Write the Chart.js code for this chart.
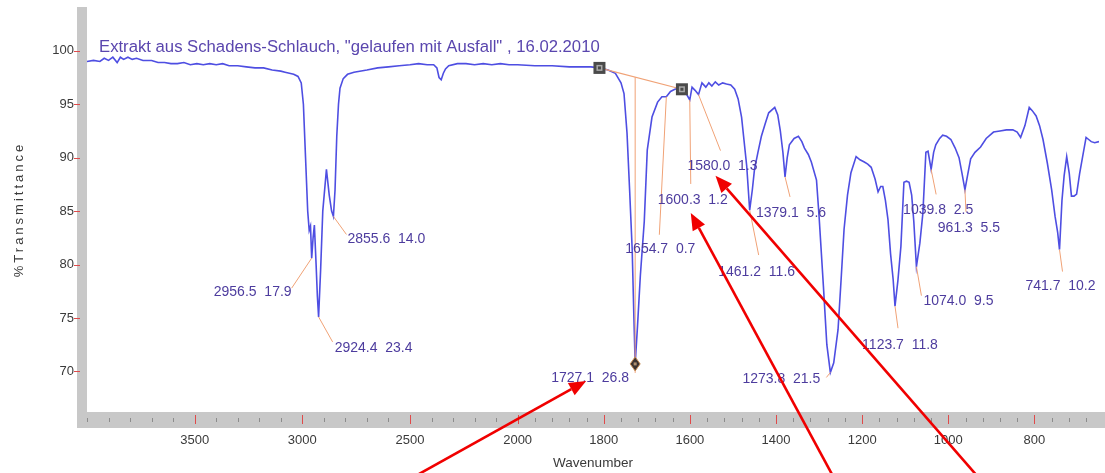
<!DOCTYPE html>
<html>
<head>
<meta charset="utf-8">
<script src="https://cdn.jsdelivr.net/npm/chart.js@4.4.0/dist/chart.umd.min.js"></script>
<style>
  html, body { margin: 0; padding: 0; background: #fff; }
  #wrap { width: 1105px; height: 473px; }
</style>
</head>
<body>
<div id="wrap"><canvas id="irChart"></canvas></div>
<script>
// IR spectrum, wavenumber (1/cm) and %T
const WAVENUMBER = [
  4000, 3970, 3940, 3920, 3900, 3880, 3860, 3845, 3830, 3810, 3790, 3770, 3740, 3700, 3670, 3640,
  3610, 3580, 3550, 3520, 3490, 3460, 3430, 3400, 3370, 3340, 3300, 3260, 3220, 3180, 3140, 3100,
  3080, 3060, 3040, 3020, 3005, 2995, 2985, 2975, 2968, 2962, 2956.5, 2950, 2944, 2936, 2930, 2924.4,
  2915, 2905, 2888, 2875, 2864, 2855.6, 2848, 2840, 2832, 2825, 2810, 2790, 2760, 2700, 2650, 2600,
  2550, 2500, 2460, 2420, 2390, 2375, 2365, 2355, 2345, 2335, 2320, 2280, 2240, 2200, 2160, 2120,
  2080, 2040, 2000, 1960, 1920, 1880, 1850, 1830, 1810, 1790, 1773, 1760, 1753, 1746, 1740, 1734,
  1730, 1727.1, 1722, 1715, 1706, 1699, 1688, 1675, 1665, 1654.7, 1645, 1635, 1625, 1618.5, 1610, 1600.3,
  1595, 1588, 1580.0, 1572, 1563, 1556, 1549, 1541, 1533, 1524, 1515, 1505, 1496, 1488, 1480, 1468,
  1461.2, 1455, 1450, 1442, 1434, 1425, 1417, 1403, 1396, 1390, 1384, 1379.1, 1374, 1369, 1358, 1348,
  1340, 1334, 1325, 1318, 1306, 1300, 1290, 1282, 1273.8, 1266, 1256, 1249, 1242, 1234, 1226, 1214,
  1205, 1195, 1187, 1179, 1170, 1163, 1157, 1152, 1146, 1140, 1134, 1128, 1123.7, 1117, 1110, 1103,
  1097, 1091, 1085, 1080, 1074.0, 1066, 1059, 1052, 1047, 1039.8, 1034, 1029, 1020, 1013, 1004, 994,
  984, 975, 968, 961.3, 955, 948, 938, 925, 912, 895, 880, 865, 850, 840, 832, 822,
  812, 805, 796, 788, 780, 770, 760, 752, 746, 741.7, 736, 731, 725, 719, 714, 708,
  702, 695, 688, 680, 674, 668, 660, 650
];
const TRANSMITTANCE = [
  99.0, 99.1, 99.0, 99.3, 99.1, 99.4, 98.9, 99.4, 99.2, 99.4, 99.2, 99.3, 99.1, 99.1, 98.9, 98.9,
  98.8, 98.8, 98.9, 98.7, 98.8, 98.7, 98.8, 98.7, 98.8, 98.6, 98.6, 98.5, 98.4, 98.4, 98.2, 98.1,
  98.0, 97.9, 97.8, 97.6, 97.0, 95.0, 90.0, 85.0, 83.2, 83.6, 80.6, 82.5, 83.7, 80.0, 77.0, 75.1,
  79.5, 85.0, 88.9, 86.5, 85.0, 84.5, 87.0, 92.0, 95.0, 96.5, 97.4, 97.8, 98.0, 98.2, 98.4, 98.5,
  98.6, 98.7, 98.8, 98.7, 98.7, 98.4, 97.5, 97.3, 97.9, 98.3, 98.6, 98.8, 98.8, 98.7, 98.8, 98.7,
  98.8, 98.7, 98.7, 98.6, 98.6, 98.5, 98.5, 98.5, 98.4, 98.2, 97.9, 97.0, 96.0, 92.3, 87.0, 81.4,
  75.0, 70.7, 74.0, 79.0, 84.0, 90.7, 93.8, 95.2, 95.7, 95.7, 96.2, 96.4, 96.5, 96.4, 96.1, 95.4,
  96.6, 96.3, 95.9, 97.0, 96.6, 97.0, 96.7, 97.1, 96.8, 97.0, 96.9, 96.8, 96.4, 95.5, 93.8, 89.2,
  85.1, 87.0, 88.9, 90.5, 92.0, 93.2, 94.2, 94.7, 94.0, 92.5, 90.5, 88.2, 90.0, 91.2, 91.8, 92.0,
  91.5, 90.9, 90.3, 89.6, 87.9, 84.5, 78.0, 72.5, 69.9, 70.8, 73.9, 78.5, 83.3, 86.5, 88.6, 90.1,
  89.8, 89.6, 89.4, 89.1, 88.0, 86.8, 87.3, 87.3, 86.0, 84.2, 81.0, 78.6, 76.1, 78.5, 81.7, 87.7,
  87.8, 87.7, 86.5, 84.0, 79.8, 82.0, 84.8, 90.5, 90.6, 88.9, 90.5, 91.2, 91.8, 92.1, 92.0, 91.7,
  90.9, 90.0, 88.5, 87.0, 88.4, 89.9, 90.5, 91.0, 91.8, 92.4, 92.5, 92.6, 92.6, 92.4, 91.9, 93.0,
  94.7, 94.4, 93.9, 93.0, 91.7, 89.5, 87.0, 84.5, 83.0, 81.4, 86.0, 88.3, 90.1, 88.5, 86.4, 86.4,
  86.6, 88.5, 90.1, 91.9, 91.7, 91.5, 91.4, 91.5
];

// picked peaks: position and height above the local baseline
const PEAK_WN = [2956.5, 2924.4, 2855.6, 1727.1, 1654.7, 1600.3, 1580.0, 1461.2, 1379.1, 1273.8, 1123.7, 1074.0, 1039.8, 961.3, 741.7];
const PEAK_HEIGHT = [17.9, 23.4, 14.0, 26.8, 0.7, 1.2, 1.3, 11.6, 5.6, 21.5, 11.8, 9.5, 2.5, 5.5, 10.2];

// baseline points used for the carbonyl band
const BASELINE_WN = [1810, 1618.5];
const BASELINE_T = [98.4, 96.4];

const X_TICKS = [3500, 3000, 2500, 2000, 1800, 1600, 1400, 1200, 1000, 800];
const Y_TICKS = [70, 75, 80, 85, 90, 95, 100];

const TITLE = 'Extrakt aus Schadens-Schlauch, "gelaufen mit Ausfall" , 16.02.2010';

// axis is stretched 2x below this wavenumber
const X_BREAK = 2000;
const X_STRETCH = 2;

// label centre (dx, dy) and leader end (dx, dy), px from the peak
const LABEL_LAYOUT = [
  [-59, 34, -20, 30],
  [55, 31, 14, 25],
  [53, 23, 13, 18],
  [-45, 14, 0, 9],
  [-6, 152, -7, 138],
  [3, 100, 1, 84],
  [24, 72, 22, 56],
  [7, 62, 9, 45],
  [6, 36, 5, 20],
  [-49, 7, -4, 5],
  [5, 39, 3, 22],
  [42, 34, 5, 29],
  [7, 41, 5, 25],
  [4, 38, 1, 22],
  [1, 37, 3, 22]
];

// red arrows onto some labels: tip and tail, px from the label centre
const ARROWS = [
  { peak: 3, tip: [-4, 3], tail: [-180, 101] },
  { peak: 5, tip: [-2, 13], tail: [145, 285] },
  { peak: 6, tip: [-7, 9], tail: [257, 312] }
];

const FONT = '"Liberation Sans", Arial, sans-serif';
const TEXT_PURPLE = '#4d3c9e';
const LEADER = '#f0a276';

class SplitWavenumberScale extends Chart.LinearScale {
  warp(v) { return v > X_BREAK ? X_BREAK + (v - X_BREAK) / X_STRETCH : v; }
  unwarp(u) { return u > X_BREAK ? X_BREAK + (u - X_BREAK) * X_STRETCH : u; }
  getPixelForValue(value) {
    if (value === null || isNaN(value)) return NaN;
    const a = this.warp(this.min), b = this.warp(this.max);
    return this.getPixelForDecimal((this.warp(value) - a) / (b - a));
  }
  getValueForPixel(pixel) {
    const a = this.warp(this.min), b = this.warp(this.max);
    return this.unwarp(a + this.getDecimalForPixel(pixel) * (b - a));
  }
}
SplitWavenumberScale.id = 'splitWavenumber';
SplitWavenumberScale.defaults = Chart.LinearScale.defaults;
Chart.register(SplitWavenumberScale);

const spectrumAt = (wn) => TRANSMITTANCE[WAVENUMBER.indexOf(wn)];

const baselineAt = (wn) => {
  const f = (wn - BASELINE_WN[0]) / (BASELINE_WN[1] - BASELINE_WN[0]);
  return BASELINE_T[0] + f * (BASELINE_T[1] - BASELINE_T[0]);
};

const peakLabel = (i) => PEAK_WN[i].toFixed(1) + '  ' + PEAK_HEIGHT[i].toFixed(1);

const line = (ctx, x1, y1, x2, y2) => {
  ctx.beginPath();
  ctx.moveTo(x1, y1);
  ctx.lineTo(x2, y2);
  ctx.stroke();
};

// grey frame with ruler ticks
const frame = {
  id: 'frame',
  beforeDraw(chart) {
    const { ctx, chartArea: a, scales: { x, y } } = chart;
    ctx.save();
    ctx.fillStyle = '#c8c8c8';
    ctx.fillRect(a.left - 10, a.top, 10, a.bottom + 16 - a.top);
    ctx.fillRect(a.left - 10, a.bottom, chart.width - a.left + 10, 16);

    ctx.strokeStyle = '#8c8c8c';
    ctx.lineWidth = 1;
    const minor = [];
    for (let w = 4000; w > X_BREAK; w -= 100) minor.push(w);
    for (let w = X_BREAK; w >= 650; w -= 40) minor.push(w);
    minor.forEach((w) => {
      const px = Math.round(x.getPixelForValue(w)) + 0.5;
      line(ctx, px, a.bottom + 6, px, a.bottom + 10);
    });

    ctx.strokeStyle = '#e04a4a';
    X_TICKS.forEach((w) => {
      const px = Math.round(x.getPixelForValue(w)) + 0.5;
      line(ctx, px, a.bottom + 3, px, a.bottom + 12);
    });
    Y_TICKS.forEach((t) => {
      const py = Math.round(y.getPixelForValue(t)) + 0.5;
      line(ctx, a.left - 13, py, a.left - 7, py);
    });
    ctx.restore();
  },
  afterDatasetsDraw(chart) {
    const { ctx, scales: { x, y } } = chart;
    ctx.save();

    // baseline between the two picked points
    const b0 = [x.getPixelForValue(BASELINE_WN[0]), y.getPixelForValue(BASELINE_T[0])];
    const b1 = [x.getPixelForValue(BASELINE_WN[1]), y.getPixelForValue(BASELINE_T[1])];
    ctx.strokeStyle = LEADER;
    ctx.lineWidth = 1.2;
    line(ctx, b0[0], b0[1], b1[0], b1[1]);

    // leaders and labels
    ctx.font = '14px ' + FONT;
    ctx.textAlign = 'center';
    ctx.textBaseline = 'middle';
    PEAK_WN.forEach((wn, i) => {
      const px = x.getPixelForValue(wn);
      const py = y.getPixelForValue(spectrumAt(wn));
      const [lx, ly, ex, ey] = LABEL_LAYOUT[i];
      ctx.strokeStyle = LEADER;
      ctx.lineWidth = 1;
      if (wn < BASELINE_WN[0] && wn > BASELINE_WN[1] && PEAK_HEIGHT[i] > 5) {
        line(ctx, px, y.getPixelForValue(baselineAt(wn)), px + ex, py + ey);
      } else {
        line(ctx, px, py, px + ex, py + ey);
      }
      ctx.fillStyle = TEXT_PURPLE;
      ctx.fillText(peakLabel(i), px + lx, py + ly);
    });

    // baseline markers
    [b0, b1].forEach(([bx, by]) => {
      ctx.fillStyle = '#4a4a4a';
      ctx.fillRect(bx - 6, by - 6, 12, 12);
      ctx.fillStyle = '#a8a8a8';
      ctx.fillRect(bx - 3, by - 3, 6, 6);
      ctx.fillStyle = '#4a4a4a';
      ctx.fillRect(bx - 1.5, by - 1.5, 3, 3);
    });

    // marker on the strongest band
    const main = PEAK_HEIGHT.indexOf(Math.max(...PEAK_HEIGHT));
    const dx = x.getPixelForValue(PEAK_WN[main]);
    const dy = y.getPixelForValue(spectrumAt(PEAK_WN[main]));
    ctx.beginPath();
    ctx.moveTo(dx, dy - 7);
    ctx.lineTo(dx + 5, dy);
    ctx.lineTo(dx, dy + 7);
    ctx.lineTo(dx - 5, dy);
    ctx.closePath();
    ctx.fillStyle = '#3d3230';
    ctx.fill();
    ctx.strokeStyle = '#c98c52';
    ctx.lineWidth = 1;
    ctx.stroke();
    ctx.fillStyle = '#b09070';
    ctx.fillRect(dx - 1.5, dy - 1.5, 3, 3);
    ctx.restore();
  },
  afterDraw(chart) {
    const { ctx, chartArea: a, scales: { x, y } } = chart;
    ctx.save();

    ctx.font = '16.7px ' + FONT;
    ctx.fillStyle = '#5a46ae';
    ctx.textAlign = 'left';
    ctx.textBaseline = 'alphabetic';
    ctx.fillText(TITLE, a.left + 12, a.top + 45);

    // y axis title, spaced out
    ctx.translate(19, (a.top + a.bottom) / 2);
    ctx.rotate(-Math.PI / 2);
    ctx.font = '13px ' + FONT;
    ctx.letterSpacing = '3px';
    ctx.fillStyle = '#3a3a3a';
    ctx.textAlign = 'center';
    ctx.textBaseline = 'middle';
    ctx.fillText('%Transmittance', 0, 0);
    ctx.setTransform(1, 0, 0, 1, 0, 0);
    ctx.letterSpacing = '0px';

    // arrows
    ctx.strokeStyle = '#f00000';
    ctx.fillStyle = '#f00000';
    ctx.lineWidth = 2.6;
    ARROWS.forEach(({ peak, tip, tail }) => {
      const wn = PEAK_WN[peak];
      const cx = x.getPixelForValue(wn) + LABEL_LAYOUT[peak][0];
      const cy = y.getPixelForValue(spectrumAt(wn)) + LABEL_LAYOUT[peak][1];
      const tx = cx + tip[0], ty = cy + tip[1];
      const sx = cx + tail[0], sy = cy + tail[1];
      const ang = Math.atan2(ty - sy, tx - sx);
      const len = 17, half = 7;
      const bx = tx - len * Math.cos(ang), by = ty - len * Math.sin(ang);
      line(ctx, sx, sy, bx, by);
      ctx.beginPath();
      ctx.moveTo(tx, ty);
      ctx.lineTo(bx + half * Math.sin(ang), by - half * Math.cos(ang));
      ctx.lineTo(bx - half * Math.sin(ang), by + half * Math.cos(ang));
      ctx.closePath();
      ctx.fill();
    });
    ctx.restore();
  }
};

const ctx = document.getElementById('irChart').getContext('2d');
const irChart = new Chart(ctx, {
  type: 'line',
  data: {
    datasets: [{
      data: WAVENUMBER.map((w, i) => ({ x: w, y: TRANSMITTANCE[i] })),
      borderColor: 'rgb(78, 78, 226)',
      borderWidth: 1.6,
      pointRadius: 0,
      tension: 0,
      fill: false
    }]
  },
  options: {
    responsive: true,
    maintainAspectRatio: false,
    animation: false,
    layout: { padding: { top: 7, right: 6, left: 0, bottom: 0 } },
    plugins: { legend: { display: false }, tooltip: { enabled: false } },
    scales: {
      x: {
        type: 'splitWavenumber',
        reverse: true,
        min: 650,
        max: 4000,
        afterBuildTicks: (s) => { s.ticks = X_TICKS.map((v) => ({ value: v })); },
        afterFit: (s) => { s.height = 61; s.paddingLeft = 0; s.paddingRight = 0; },
        grid: { display: false, drawTicks: false },
        border: { display: false },
        ticks: {
          autoSkip: false,
          maxRotation: 0,
          padding: 21,
          color: '#3a3a3a',
          font: { family: FONT, size: 13 },
          callback: (v) => String(v)
        },
        title: {
          display: true,
          text: 'Wavenumber',
          color: '#3a3a3a',
          font: { family: FONT, size: 13.5 },
          padding: { top: 0, bottom: 2 }
        }
      },
      y: {
        min: 66.2,
        max: 104.1,
        afterBuildTicks: (s) => { s.ticks = Y_TICKS.map((v) => ({ value: v })); },
        afterFit: (s) => { s.width = 87; s.paddingTop = 0; s.paddingBottom = 0; },
        grid: { display: false, drawTicks: false },
        border: { display: false },
        ticks: {
          padding: 13,
          color: '#3a3a3a',
          font: { family: FONT, size: 13 },
          callback: (v) => String(v)
        }
      }
    }
  },
  plugins: [frame]
});
</script>
</body>
</html>
